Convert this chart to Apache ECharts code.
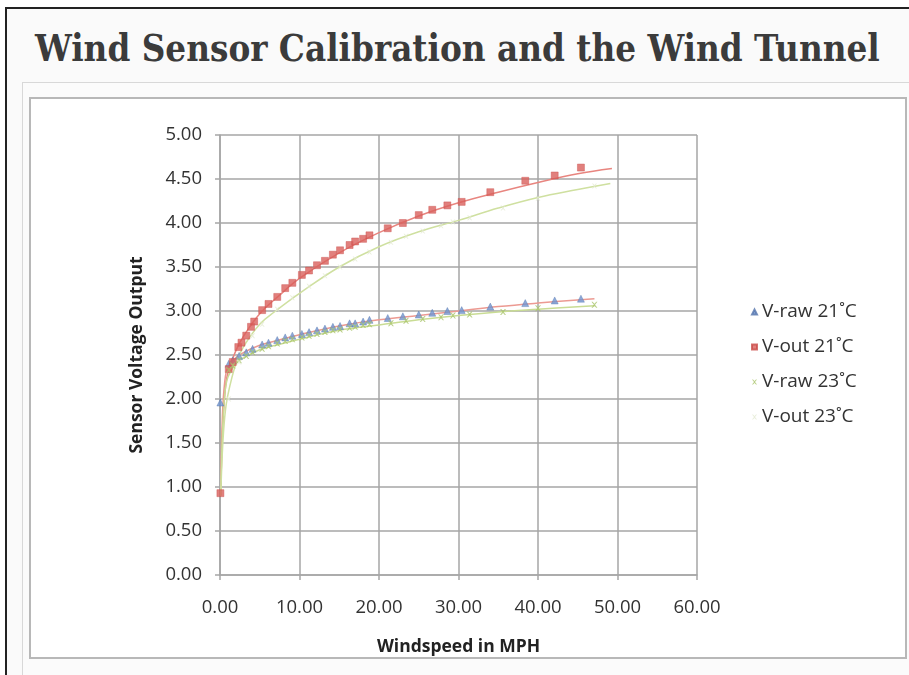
<!DOCTYPE html>
<html>
<head>
<meta charset="utf-8">
<script src="https://cdn.jsdelivr.net/npm/echarts@6/dist/echarts.min.js"></script>
<style>
    html, body { margin: 0; padding: 0; background: #fff; }
    .page { position: relative; width: 909px; height: 675px; overflow: hidden; }
    .edge-top { position: absolute; left: 5px; top: 7px; right: 0; height: 2px; background: #222; }
    .edge-left { position: absolute; left: 5px; top: 7px; width: 2px; bottom: 0; background: #222; }
    .panel { position: absolute; left: 7px; top: 9px; right: 0; bottom: 0; background: #fafafa; }
    .heading {
        position: absolute; left: 35px; top: 27px; margin: 0;
        font-family: "DejaVu Serif Condensed", "DejaVu Serif", serif;
        font-weight: bold; font-size: 36.4px; color: #3b3b3b; white-space: nowrap;
    }
    .outer-box { position: absolute; left: 22px; top: 82px; right: -4px; bottom: -4px; border: 1px solid #d8d8d8; background: #fbfbfb; }
    .inner-box { position: absolute; left: 29px; top: 97px; width: 874px; height: 558px; border: 2px solid #b8b8b8; background: #fff; }
    #chart { position: absolute; left: 0; top: 0; width: 909px; height: 675px; }
</style>
</head>
<body>
<div class="page">
    <div class="panel"></div>
    <div class="edge-top"></div>
    <div class="edge-left"></div>
    <h1 class="heading">Wind Sensor Calibration and the Wind Tunnel</h1>
    <div class="outer-box"></div>
    <div class="inner-box"></div>
    <div id="chart"></div>
</div>
<script>
    // measured points (windspeed mph, volts)
    var rawX21 = [0.05, 1.1, 1.6, 2.4, 3.3, 4.1, 5.3, 6.1, 7.2, 8.2, 9.1, 10.3, 11.2, 12.2, 13.2, 14.2, 15.1, 16.3, 17.0, 18.0, 18.8, 21.1, 23.0, 25.0, 26.7, 28.6, 30.4, 34.0, 38.4, 42.1, 45.4];
    var rawY21 = [1.96, 2.40, 2.44, 2.49, 2.53, 2.57, 2.62, 2.64, 2.67, 2.70, 2.72, 2.74, 2.76, 2.78, 2.80, 2.82, 2.83, 2.86, 2.86, 2.88, 2.90, 2.92, 2.94, 2.96, 2.98, 3.00, 3.01, 3.05, 3.09, 3.12, 3.14];

    var outX21 = [0.05, 1.1, 1.6, 2.3, 2.7, 3.3, 3.9, 4.3, 5.3, 6.1, 7.2, 8.2, 9.1, 10.3, 11.2, 12.2, 13.2, 14.2, 15.1, 16.3, 17.0, 18.0, 18.8, 21.1, 23.0, 25.0, 26.7, 28.6, 30.4, 34.0, 38.4, 42.1, 45.4];
    var outY21 = [0.93, 2.34, 2.42, 2.59, 2.64, 2.72, 2.82, 2.88, 3.01, 3.08, 3.16, 3.26, 3.32, 3.41, 3.46, 3.52, 3.57, 3.64, 3.69, 3.75, 3.79, 3.82, 3.86, 3.94, 4.00, 4.09, 4.15, 4.20, 4.24, 4.35, 4.48, 4.54, 4.63];

    var rawX23 = [1.1, 1.6, 2.4, 3.3, 4.1, 5.3, 6.1, 7.2, 8.2, 9.1, 10.3, 11.2, 12.2, 13.2, 14.2, 15.1, 16.3, 17.0, 18.0, 18.8, 21.5, 23.4, 25.5, 27.8, 29.3, 31.4, 35.6, 40.0, 47.1];
    var rawY23 = [2.33, 2.38, 2.44, 2.49, 2.53, 2.57, 2.60, 2.63, 2.66, 2.68, 2.70, 2.72, 2.74, 2.76, 2.78, 2.79, 2.81, 2.82, 2.84, 2.85, 2.86, 2.89, 2.91, 2.93, 2.95, 2.96, 2.99, 3.03, 3.07];

    var outX23 = [1.1, 2.4, 4.1, 5.3, 7.2, 9.1, 11.2, 13.2, 15.1, 17.0, 18.8, 21.5, 23.4, 25.5, 27.8, 29.3, 31.4, 35.6, 40.0, 47.1];
    var outY23 = [2.00, 2.42, 2.72, 2.85, 3.02, 3.15, 3.28, 3.40, 3.50, 3.59, 3.67, 3.78, 3.85, 3.91, 3.97, 4.01, 4.06, 4.17, 4.28, 4.42];

    // trend lines
    var trendRaw21X = [0.1, 0.3, 0.6, 1, 2, 3, 5, 7, 10, 15, 20, 25, 30, 35, 40, 47.1];
    var trendRaw21Y = [1.00, 1.80, 2.20, 2.36, 2.47, 2.53, 2.61, 2.66, 2.73, 2.83, 2.90, 2.95, 3.00, 3.05, 3.09, 3.14];
    var trendOut21X = [0.1, 0.3, 0.6, 1, 2, 3, 5, 7.5, 10, 15, 20, 25, 30, 35, 40, 45, 49.3];
    var trendOut21Y = [0.95, 1.60, 2.05, 2.30, 2.55, 2.72, 2.97, 3.18, 3.37, 3.66, 3.89, 4.08, 4.23, 4.35, 4.46, 4.56, 4.62];
    var trendRaw23X = [0.1, 0.3, 0.6, 1, 2, 3, 5, 7, 10, 15, 20, 25, 30, 35, 40, 47.1];
    var trendRaw23Y = [0.90, 1.60, 2.05, 2.25, 2.40, 2.47, 2.56, 2.61, 2.68, 2.78, 2.84, 2.90, 2.95, 2.99, 3.02, 3.06];
    var trendOut23X = [0.1, 0.3, 0.6, 1, 2, 3, 5, 7, 10, 15, 20, 25, 30, 35, 40, 45, 49.1];
    var trendOut23Y = [0.90, 1.40, 1.80, 2.05, 2.40, 2.60, 2.85, 3.00, 3.20, 3.50, 3.73, 3.90, 4.03, 4.17, 4.29, 4.38, 4.45];

    var seriesNames = ['V-raw 21˚C', 'V-out 21˚C', 'V-raw 23˚C', 'V-out 23˚C'];

    function pairs(xs, ys) {
        return xs.map(function (x, i) { return [x, ys[i]]; });
    }

    var crossPath = 'path://M0,0 L2,0 L5,3 L8,0 L10,0 L6,5 L10,10 L8,10 L5,7 L2,10 L0,10 L4,5 Z';

    function trend(xs, ys, color) {
        return {
            type: 'line',
            data: pairs(xs, ys),
            smooth: 0.4,
            showSymbol: false,
            silent: true,
            lineStyle: { color: color, width: 1.5 },
            z: 1
        };
    }

    var myChart = echarts.init(document.getElementById('chart'));
    var option = {
        animation: false,
        textStyle: { fontFamily: 'Open Sans' },
        grid: { left: 220, top: 135, width: 477, height: 440 },
        legend: {
            orient: 'vertical',
            left: 746,
            top: 296,
            itemWidth: 5,
            itemHeight: 5,
            itemGap: 13,
            data: seriesNames,
            textStyle: { color: '#333', fontSize: 19, fontFamily: 'Open Sans', lineHeight: 22 }
        },
        xAxis: {
            type: 'value',
            min: 0, max: 60, interval: 10,
            name: 'Windspeed in MPH',
            nameLocation: 'middle',
            nameGap: 63,
            nameTextStyle: { color: '#222', fontSize: 17.5, fontWeight: 'bold' },
            axisLine: { show: true, lineStyle: { color: '#a6a6a6', width: 1.5 } },
            axisTick: { show: true, inside: false, length: 5, lineStyle: { color: '#a6a6a6', width: 1.5 } },
            axisLabel: { color: '#333', fontSize: 18.5, margin: 23, formatter: function (v) { return v.toFixed(2); } },
            splitLine: { show: true, lineStyle: { color: '#a6a6a6', width: 1.5 } }
        },
        yAxis: {
            type: 'value',
            min: 0, max: 5, interval: 0.5,
            name: 'Sensor Voltage Output',
            nameLocation: 'middle',
            nameGap: 74,
            nameTextStyle: { color: '#222', fontSize: 17.5, fontWeight: 'bold' },
            axisLine: { show: true, lineStyle: { color: '#a6a6a6', width: 1.5 } },
            axisTick: { show: true, inside: false, length: 5, lineStyle: { color: '#a6a6a6', width: 1.5 } },
            axisLabel: { color: '#333', fontSize: 18.5, margin: 18, formatter: function (v) { return v.toFixed(2); } },
            splitLine: { show: true, lineStyle: { color: '#a6a6a6', width: 1.5 } }
        },
        series: [
            {
                name: seriesNames[0], type: 'scatter', data: pairs(rawX21, rawY21),
                symbol: 'triangle', symbolSize: 7,
                itemStyle: { color: '#6f93cf', borderColor: '#5676ad', borderWidth: 0.5 }, z: 3
            },
            {
                name: seriesNames[1], type: 'scatter', data: pairs(outX21, outY21),
                symbol: 'rect', symbolSize: 7,
                itemStyle: { color: '#d9605c', borderColor: '#c94c48', borderWidth: 0.5 }, z: 3
            },
            {
                name: seriesNames[2], type: 'scatter', data: pairs(rawX23, rawY23),
                symbol: crossPath, symbolSize: 6,
                itemStyle: { color: '#a9c46a' }, z: 3
            },
            {
                name: seriesNames[3], type: 'scatter', data: pairs(outX23, outY23),
                symbol: crossPath, symbolSize: 5,
                itemStyle: { color: '#e3ead2' }, z: 3
            },
            trend(trendRaw21X, trendRaw21Y, '#ec9a92'),
            trend(trendOut21X, trendOut21Y, '#e8857f'),
            trend(trendRaw23X, trendRaw23Y, '#c9dc94'),
            trend(trendOut23X, trendOut23Y, '#cfe0a0')
        ]
    };
    myChart.setOption(option);
</script>
</body>
</html>
